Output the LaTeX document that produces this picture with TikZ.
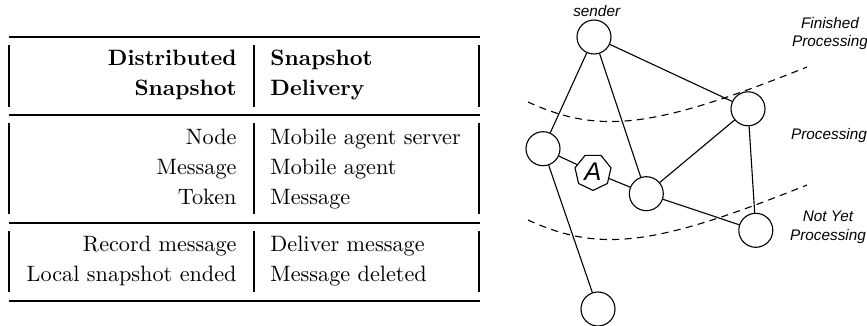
\documentclass[tikz,border=0pt]{standalone}
\usepackage{fontspec}
\newfontfamily\gfont{Liberation Sans}
\usetikzlibrary{shapes.geometric}
\begin{document}
\begin{tikzpicture}[x=0.45pt,y=-0.45pt,
  tabrule/.style={line width=0.9pt},
  tabvline/.style={line width=0.8pt},
  lt/.style={anchor=base east,inner sep=0pt,font=\fontsize{10}{12}\selectfont},
  rt/.style={anchor=base west,inner sep=0pt,font=\fontsize{10}{12}\selectfont},
  vert/.style={circle,draw,line width=0.5pt,minimum size=15.3pt,inner sep=0pt,fill=white},
  agent/.style={regular polygon,regular polygon sides=7,shape border rotate=180,draw,line width=0.5pt,fill=white,minimum size=16.6pt,inner sep=0pt,font=\gfont\itshape\fontsize{11.5}{11.5}\selectfont},
  lbl/.style={font=\gfont\itshape\fontsize{6.9}{8.3}\selectfont,align=center,inner sep=0pt},
  edge/.style={line width=0.5pt},
  cut/.style={line width=0.5pt,dash pattern=on 3.2pt off 2.4pt}
]
\useasboundingbox (0,0) rectangle (867,326);

% ---------- table ----------
\draw[tabrule] (9,37) -- (480,37);
\draw[tabrule] (9,115) -- (480,115);
\draw[tabrule] (9,223) -- (480,223);
\draw[tabrule] (9,301) -- (480,301);
\foreach \ya/\yb in {45/107,123/214,231/292}{
  \draw[tabvline] (9,\ya) -- (9,\yb);
  \draw[tabvline] (254,\ya) -- (254,\yb);
  \draw[tabvline] (479,\ya) -- (479,\yb);
}
\node[lt] (h1) at (237,66) {\textbf{Distributed}};
\node[lt] (h2) at (237,96) {\textbf{Snapshot}};
\node[rt] (h3) at (270,66) {\textbf{Snapshot}};
\node[rt] (h4) at (270,96) {\textbf{Delivery}};
\node[lt] (a1) at (237,144.3) {Node};
\node[lt] (a2) at (237,174.3) {Message};
\node[lt] (a3) at (237,204.3) {Token};
\node[rt] (b1) at (270,144.3) {Mobile agent server};
\node[rt] (b2) at (270,174.3) {Mobile agent};
\node[rt] (b3) at (270,204.3) {Message};
\node[lt] (c1) at (237,251.7) {Record message};
\node[lt] (c2) at (237,281.7) {Local snapshot ended};
\node[rt] (d1) at (270,251.7) {Deliver message};
\node[rt] (d2) at (270,281.7) {Message deleted};

% ---------- graph ----------
\draw[cut] (528,102) .. controls (600,135) and (655,128) .. (807,67);
\draw[cut] (528,220) .. controls (600,253) and (655,246) .. (807,185);

\node[vert] (S) at (594,37) {};
\node[vert] (L) at (543,148.7) {};
\node[vert] (M) at (646.3,193.7) {};
\node[vert] (RU) at (748,108.8) {};
\node[vert] (RL) at (755.8,230.3) {};
\node[vert] (B) at (598,309) {};
\node[agent] (A) at (593,172) {A};

\draw[edge] (S) -- (L);
\draw[edge] (S) -- (M);
\draw[edge] (S) -- (RU);
\draw[edge] (L) -- (A);
\draw[edge] (A) -- (M);
\draw[edge] (L) -- (B);
\draw[edge] (M) -- (RU);
\draw[edge] (M) -- (RL);
\draw[edge] (RU) -- (RL);

\node[lbl,anchor=base] (ls) at (596.7,16.7) {sender};
\node[lbl,anchor=base] (lf) at (830,46.7) {Finished\\Processing};
\node[lbl,anchor=base] (lp) at (829,140) {Processing};
\node[lbl,anchor=base] (ln) at (828,240) {Not Yet\\Processing};
\end{tikzpicture}
\end{document}
